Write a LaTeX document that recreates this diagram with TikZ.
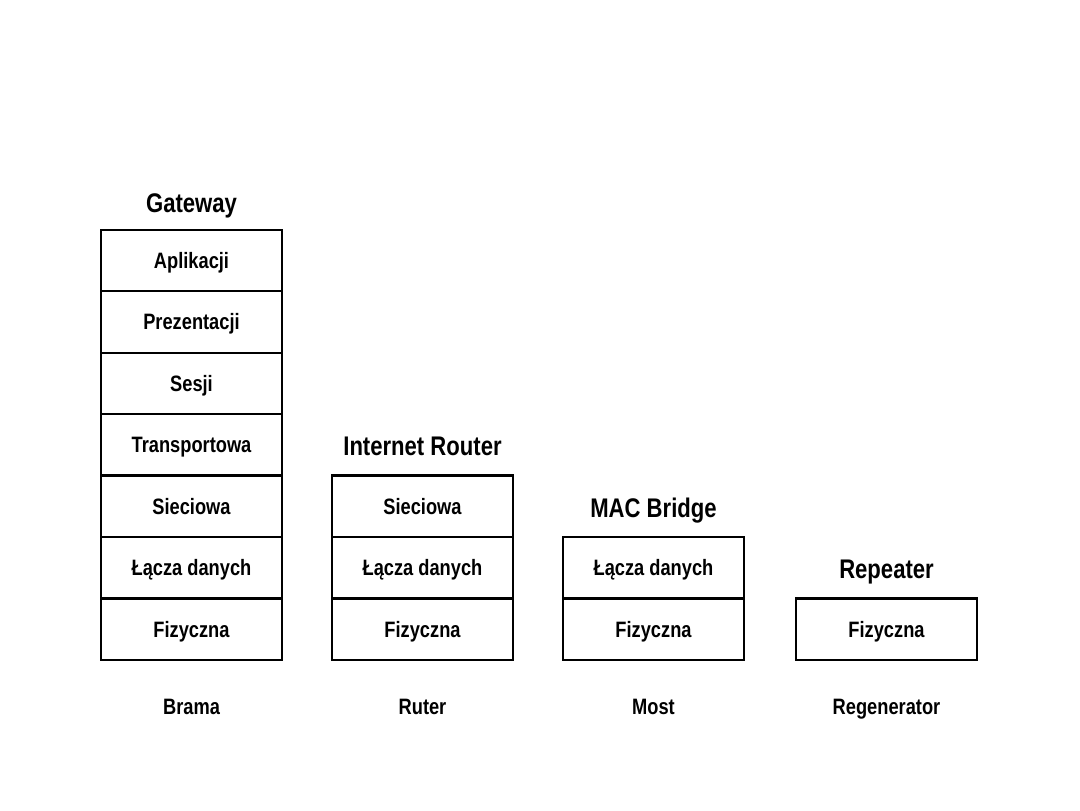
\documentclass[tikz,border=0pt]{standalone}
\usepackage{fontspec}
\setmainfont{Liberation Sans}[FakeStretch=0.82]
\usetikzlibrary{positioning}

\tikzset{
	layer/.style={draw, line width=1.7pt, minimum width=135.5pt, minimum height=46.1pt,
		inner sep=0pt, outer sep=0pt, text height=11.8pt, text depth=0pt,
		font=\bfseries\fontsize{16.7}{18}\selectfont},
	devtitle/.style={inner sep=0pt, text height=14.4pt, text depth=0pt,
		font=\bfseries\fontsize{20.2}{24}\selectfont},
	devname/.style={inner sep=0pt, text height=11.8pt, text depth=0pt,
		font=\bfseries\fontsize{16.7}{18}\selectfont}
}

\begin{document}
\begin{tikzpicture}[x=0.75pt, y=0.75pt]
			\useasboundingbox (0, 0) rectangle (1080, 810);
			
			% Gateway
			\node[layer] (gwfiz) at (191.5, 180.7) {Fizyczna};
			\node[layer, above=0pt of gwfiz] (gwlacza) {Łącza danych};
			\node[layer, above=0pt of gwlacza] (gwsiec) {Sieciowa};
			\node[layer, above=0pt of gwsiec] (gwtrans) {Transportowa};
			\node[layer, above=0pt of gwtrans] (gwsesji) {Sesji};
			\node[layer, above=0pt of gwsesji] (gwprez) {Prezentacji};
			\node[layer, above=0pt of gwprez] (gwapl) {Aplikacji};
			\node[devtitle] (gwtitle) at (191.5, 607) {Gateway};
			\node[devname] (gwname) at (191.5, 103.5) {Brama};
			
			% Internet Router
			\node[layer] (rtfiz) at (422.5, 180.7) {Fizyczna};
			\node[layer, above=0pt of rtfiz] (rtlacza) {Łącza danych};
			\node[layer, above=0pt of rtlacza] (rtsiec) {Sieciowa};
			\node[devtitle] (rttitle) at (422.5, 364) {Internet Router};
			\node[devname] (rtname) at (422.5, 103.5) {Ruter};
			
			% MAC Bridge
			\node[layer] (brfiz) at (653.5, 180.7) {Fizyczna};
			\node[layer, above=0pt of brfiz] (brlacza) {Łącza danych};
			\node[devtitle] (brtitle) at (653.5, 302) {MAC Bridge};
			\node[devname] (brname) at (653.5, 103.5) {Most};
			
			% Repeater
			\node[layer] (rpfiz) at (886.5, 180.7) {Fizyczna};
			\node[devtitle] (rptitle) at (886.5, 241) {Repeater};
			\node[devname] (rpname) at (886.5, 103.5) {Regenerator};
		\end{tikzpicture}
\end{document}
